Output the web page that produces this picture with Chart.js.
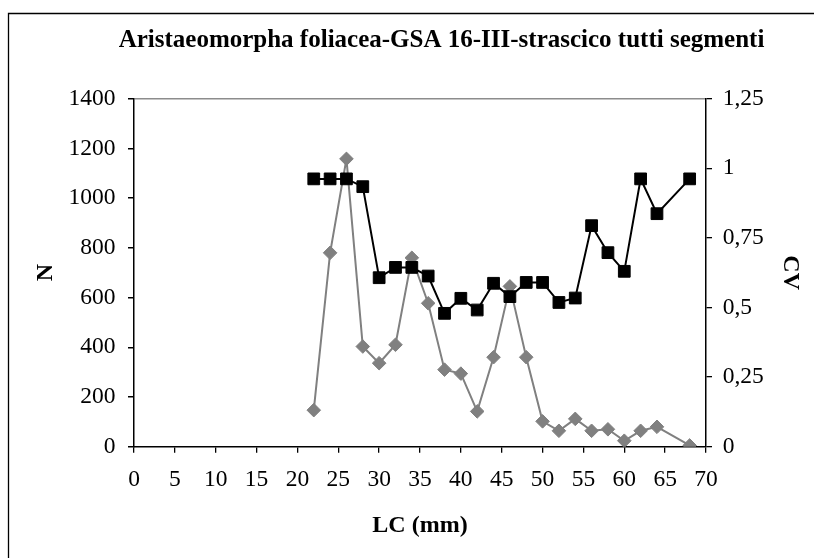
<!DOCTYPE html>
<html>
<head>
<meta charset="utf-8">
<script src="https://cdn.jsdelivr.net/npm/chart.js@4.4.1/dist/chart.umd.min.js"></script>
<style>
  html, body { margin: 0; padding: 0; background: #fff; }
  canvas { display: block; }
</style>
</head>
<body>
<canvas id="myChart" width="814" height="558"></canvas>
<script>
// LC (mm) classes
const lcValues = [22, 24, 26, 28, 30, 32, 34, 36, 38, 40, 42, 44, 46, 48, 50, 52, 54, 56, 58, 60, 62, 64, 68];
// number of individuals (left axis)
const nValues = [147, 780, 1158, 403, 336, 410, 760, 577, 310, 294, 142, 360, 645, 360, 102, 64, 112, 64, 70, 24, 64, 80, 5];
// coefficient of variation (right axis)
const cvValues = [0.962, 0.962, 0.962, 0.934, 0.607, 0.644, 0.644, 0.613, 0.479, 0.533, 0.491, 0.587, 0.539, 0.59, 0.59, 0.518, 0.534, 0.794, 0.697, 0.63, 0.962, 0.837, 0.962];

const chartTitle = 'Aristaeomorpha foliacea-GSA 16-III-strascico tutti segmenti';

const serif = 'Liberation Serif, Times New Roman, serif';
const tickFont = { family: serif, size: 23.5 };
const titleFont = { family: serif, size: 24, weight: 'bold' };

// outer frame + title text
const frameAndTitle = {
  id: 'frameAndTitle',
  afterDraw(chart) {
    const c = chart.ctx;
    c.save();
    c.strokeStyle = '#000';
    c.lineWidth = 1.3;
    c.beginPath();
    c.moveTo(8.5, 558);
    c.lineTo(8.5, 13.5);
    c.lineTo(814, 13.5);
    c.stroke();
    c.fillStyle = '#000';
    c.font = 'bold 25px ' + serif;
    c.textAlign = 'center';
    c.textBaseline = 'middle';
    c.fillText(chartTitle, 441.5, 41);
    c.restore();
  }
};

const ctx = document.getElementById('myChart');

const myChart = new Chart(ctx, {
  type: 'line',
  data: {
    datasets: [
      {
        label: 'CV',
        data: lcValues.map((x, i) => ({ x: x, y: cvValues[i] })),
        yAxisID: 'y1',
        order: 0,
        borderColor: '#000',
        backgroundColor: '#000',
        borderWidth: 2,
        pointStyle: 'rect',
        pointRadius: 8.3,
        pointBorderWidth: 1,
        pointBackgroundColor: '#000',
        pointBorderColor: '#000',
        tension: 0,
      },
      {
        label: 'N',
        data: lcValues.map((x, i) => ({ x: x, y: nValues[i] })),
        yAxisID: 'y',
        order: 1,
        borderColor: '#808080',
        backgroundColor: '#808080',
        borderWidth: 2,
        pointStyle: 'rectRot',
        pointRadius: 6.8,
        pointBorderWidth: 1,
        pointBackgroundColor: '#808080',
        pointBorderColor: '#808080',
        tension: 0,
      }
    ]
  },
  options: {
    responsive: false,
    animation: false,
    events: [],
    layout: {
      padding: { top: 98.7, left: 0, right: 0, bottom: 0 }
    },
    plugins: {
      legend: { display: false },
      title: { display: false },
      tooltip: { enabled: false }
    },
    scales: {
      x: {
        type: 'linear',
        min: 0,
        max: 70,
        afterFit: (s) => { s.height = 111.3; },
        ticks: { stepSize: 5, color: '#000', font: tickFont, padding: 13, maxRotation: 0 },
        grid: { drawOnChartArea: false, tickLength: 6, tickColor: '#000', lineWidth: 1.3 },
        border: { color: '#000', width: 1.5 },
        title: {
          display: true,
          text: 'LC (mm)',
          color: '#000',
          font: titleFont,
          padding: { top: 0, bottom: 17.6 }
        }
      },
      y: {
        type: 'linear',
        position: 'left',
        min: 0,
        max: 1400,
        afterFit: (s) => { s.width = 134; },
        ticks: {
          stepSize: 200,
          color: '#000',
          font: tickFont,
          padding: 12.5,
          callback: (v) => String(v)
        },
        grid: {
          drawOnChartArea: true,
          color: (c) => (c.tick && c.tick.value === 1400 ? '#8c8c8c' : 'rgba(0,0,0,0)'),
          tickColor: '#000',
          tickLength: 6,
          lineWidth: 1.5
        },
        border: { color: '#000', width: 1.5 },
        title: {
          display: true,
          text: 'N',
          color: '#000',
          font: titleFont,
          padding: { top: 31.1, bottom: 0 }
        }
      },
      y1: {
        type: 'linear',
        position: 'right',
        min: 0,
        max: 1.25,
        afterFit: (s) => { s.width = 108; },
        ticks: {
          stepSize: 0.25,
          color: '#000',
          font: tickFont,
          padding: 10.7,
          callback: (v) => String(v).replace('.', ',')
        },
        grid: { drawOnChartArea: false, tickLength: 6, tickColor: '#000', lineWidth: 1.3 },
        border: { color: '#000', width: 1.5 },
        title: {
          display: true,
          text: 'CV',
          color: '#000',
          font: titleFont,
          padding: { top: 9.6, bottom: 0 }
        }
      }
    }
  },
  plugins: [frameAndTitle]
});
</script>
</body>
</html>
